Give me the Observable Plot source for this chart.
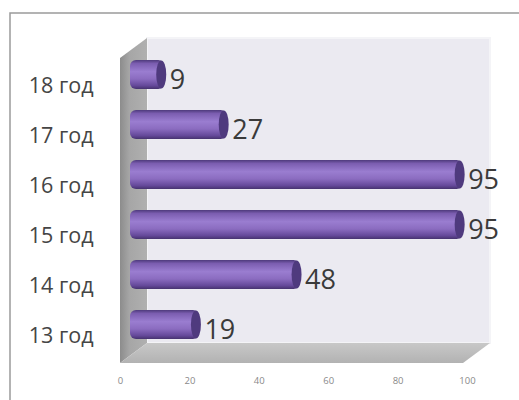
<!DOCTYPE html>
<html><head><meta charset="utf-8">
<script src="https://cdn.jsdelivr.net/npm/d3@7"></script>
<script src="https://cdn.jsdelivr.net/npm/@observablehq/plot@0.6"></script>
<style>body{margin:0;background:#fff;overflow:hidden}</style>
</head><body><div id="chart"></div>
<script>
const categories = ["18 год","17 год","16 год","15 год","14 год","13 год"];
const values = [9, 27, 95, 95, 48, 19];
const xTicks = [0, 20, 40, 60, 80, 100];
const data = categories.map((c, i) => ({cat: c, value: values[i]}));

const W = 519, H = 400;
const depthX = 27, depthY = 20, barShift = 13;

const plot = Plot.plot({
  width: W, height: H,
  marginLeft: 120, marginRight: 52, marginTop: 47, marginBottom: 49,
  style: {background: "transparent", fontFamily: "'Open Sans', sans-serif", overflow: "visible"},
  x: {domain: [0, 100]},
  y: {domain: categories, paddingInner: 0.42, paddingOuter: 0.2},
  marks: [
    Plot.axisX({ticks: xTicks, tickSize: 0, tickPadding: 26, fontSize: 9.5, fill: "#8a8a8a", label: null}),
    Plot.axisY({tickSize: 0, tickPadding: 27, dy: 11, fontSize: 21.5, fill: "#454545", label: null}),
    Plot.barX(data, {x: "value", y: "cat", dx: barShift, insetLeft: -3, fill: "url(#barGrad)", rx: 6}),
    Plot.text(data, {x: "value", y: "cat", text: d => String(d.value), dx: barShift + 5, dy: 5,
      textAnchor: "start", fontSize: 27, fill: "#3a3a3a"})
  ]
});

const svg = d3.select(plot);
const xs = plot.scale("x"), ys = plot.scale("y");
const x0 = xs.apply(0), x1 = xs.apply(100);
const yTop = ys.range[0], yBot = ys.range[1];

const defs = svg.insert("defs", ":first-child");
const g1 = defs.append("linearGradient").attr("id", "barGrad").attr("x1", 0).attr("x2", 0).attr("y1", 0).attr("y2", 1);
[["0%", "#4e3a7c"], ["12%", "#7b5db0"], ["40%", "#9a7dd0"], ["65%", "#8b6cc0"], ["88%", "#65499a"], ["100%", "#46326f"]]
  .forEach(([o, c]) => g1.append("stop").attr("offset", o).attr("stop-color", c));
const g2 = defs.append("linearGradient").attr("id", "wallGrad").attr("x1", 0).attr("x2", 1).attr("y1", 0).attr("y2", 0);
[["0%", "#8c8c8c"], ["35%", "#a6a6a6"], ["100%", "#b0b0b0"]]
  .forEach(([o, c]) => g2.append("stop").attr("offset", o).attr("stop-color", c));
const g3 = defs.append("linearGradient").attr("id", "floorGrad").attr("x1", 0).attr("x2", 0).attr("y1", 0).attr("y2", 1);
[["0%", "#c8c8c8"], ["100%", "#b2b2b2"]]
  .forEach(([o, c]) => g3.append("stop").attr("offset", o).attr("stop-color", c));

const bg = svg.insert("g", "defs + *");
// outer border
bg.append("rect").attr("x", 10).attr("y", 13).attr("width", W + 20).attr("height", H + 20)
  .attr("fill", "#fff").attr("stroke", "#9a9a9a").attr("stroke-width", 1.5);
// back wall
const bwTop = yTop - 9, bwBot = yBot - 8;
bg.append("rect").attr("x", x0 + depthX).attr("y", bwTop).attr("width", x1 - x0 - 4).attr("height", bwBot - bwTop)
  .attr("fill", "#ebeaf1").attr("stroke", "#f4f4f7").attr("stroke-width", 2);
// left wall
const fFront = bwBot + depthY;
bg.append("polygon").attr("points", [[x0, bwTop + depthY], [x0 + depthX, bwTop], [x0 + depthX, bwBot], [x0, fFront]].join(" "))
  .attr("fill", "url(#wallGrad)");
// floor
bg.append("polygon").attr("points", [[x0, fFront], [x0 + depthX, bwBot], [x1 + depthX - 4, bwBot], [x1 - 4, fFront]].join(" "))
  .attr("fill", "url(#floorGrad)");

// bar end caps
const capG = svg.append("g");
data.forEach(d => {
  capG.append("ellipse")
    .attr("cx", xs.apply(d.value) + barShift - 3)
    .attr("cy", ys.apply(d.cat) + ys.bandwidth / 2)
    .attr("rx", 5).attr("ry", ys.bandwidth / 2 - 0.5)
    .attr("fill", "#4f3a7e");
});
svg.selectAll("g[aria-label='text']").raise();

document.getElementById("chart").appendChild(plot);
</script></body></html>
